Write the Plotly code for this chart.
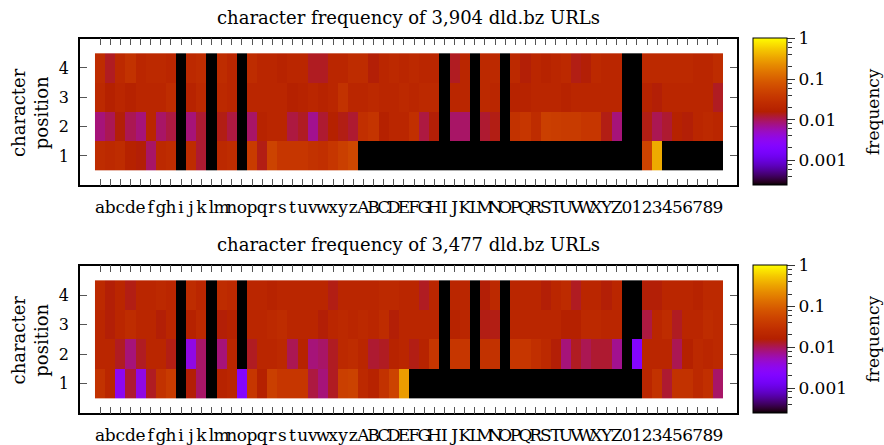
import numpy as np
import plotly.graph_objects as go

W, H = 884, 445

# ---------------- data ----------------
chars = list("abcdefghijklmnopqrstuvwxyzABCDEFGHIJKLMNOPQRSTUVWXYZ0123456789")
positions = [1, 2, 3, 4]
titles = ["character frequency of 3,904 dld.bz URLs",
          "character frequency of 3,477 dld.bz URLs"]

# chart 1: 3,904 URLs  (frequency per character, per position)
c1_pos1 = [0.025, 0.022, 0.025, 0.017, 0.015, 0.009, 0.022, 0.025, 0, 0.025, 0.012, 0, 0.022,
           0.025, 0, 0.04, 0.014, 0.05, 0.035, 0.035, 0.035, 0.03, 0.028, 0.035, 0.045, 0.055,
           0, 0, 0, 0, 0, 0, 0, 0, 0, 0, 0, 0, 0, 0, 0, 0, 0, 0, 0, 0, 0, 0, 0, 0, 0, 0,
           0, 0, 0.05, 0.35, 0, 0, 0, 0, 0, 0]
c1_pos2 = [0.008, 0.01, 0.015, 0.01, 0.008, 0.02, 0.009, 0.011, 0, 0.008, 0.012, 0, 0.014,
           0.011, 0, 0.009, 0.018, 0.02, 0.02, 0.011, 0.013, 0.007, 0.012, 0.016, 0.014, 0.012,
           0.028, 0.032, 0.016, 0.02, 0.02, 0.028, 0.011, 0.015, 0, 0.009, 0.009, 0, 0.012, 0.014,
           0, 0.03, 0.035, 0.025, 0.045, 0.042, 0.04, 0.04, 0.035, 0.035, 0.014, 0.008,
           0, 0, 0.014, 0.01, 0.012, 0.017, 0.015, 0.02, 0.022, 0.02]
c1_pos3 = [0.022, 0.016, 0.02, 0.017, 0.02, 0.02, 0.02, 0.025, 0, 0.018, 0.022, 0, 0.022,
           0.02, 0, 0.02, 0.02, 0.02, 0.02, 0.016, 0.018, 0.02, 0.018, 0.02, 0.03, 0.02,
           0.02, 0.022, 0.02, 0.02, 0.022, 0.02, 0.022, 0.022, 0, 0.02, 0.02, 0, 0.022, 0.02,
           0, 0.018, 0.018, 0.02, 0.02, 0.02, 0.018, 0.02, 0.02, 0.02, 0.02, 0.02,
           0, 0, 0.018, 0.015, 0.02, 0.02, 0.02, 0.02, 0.02, 0.013]
c1_pos4 = [0.025, 0.013, 0.022, 0.03, 0.02, 0.022, 0.022, 0.02, 0, 0.022, 0.025, 0, 0.025,
           0.02, 0, 0.025, 0.02, 0.02, 0.018, 0.02, 0.02, 0.013, 0.013, 0.02, 0.02, 0.025,
           0.025, 0.015, 0.02, 0.022, 0.02, 0.022, 0.02, 0.02, 0, 0.013, 0.02, 0, 0.022, 0.022,
           0, 0.022, 0.015, 0.02, 0.018, 0.02, 0.022, 0.014, 0.015, 0.022, 0.02, 0.02,
           0, 0, 0.022, 0.022, 0.022, 0.022, 0.022, 0.02, 0.02, 0.025]

# chart 2: 3,477 URLs
c2_pos1 = [0.03, 0.02, 0.003, 0.012, 0.0035, 0.013, 0.03, 0.04, 0, 0.015, 0.009, 0, 0.018,
           0.02, 0.0022, 0.035, 0.016, 0.045, 0.035, 0.035, 0.035, 0.011, 0.008, 0.013, 0.045, 0.048,
           0.022, 0.018, 0.03, 0.05, 0.28, 0, 0, 0, 0, 0, 0, 0, 0, 0, 0, 0, 0, 0, 0, 0, 0, 0,
           0, 0, 0, 0, 0, 0, 0.02, 0.03, 0.012, 0.03, 0.03, 0.022, 0.028, 0.009]
c2_pos2 = [0.02, 0.02, 0.013, 0.008, 0.013, 0.02, 0.02, 0.014, 0, 0.0035, 0.009, 0, 0.008,
           0.02, 0, 0.013, 0.02, 0.02, 0.022, 0.01, 0.018, 0.008, 0.009, 0.013, 0.022, 0.025,
           0.02, 0.012, 0.013, 0.018, 0.02, 0.014, 0.018, 0.035, 0, 0.035, 0.035, 0, 0.03, 0.03,
           0, 0.035, 0.035, 0.028, 0.022, 0.015, 0.008, 0.013, 0.01, 0.012, 0.012, 0.007,
           0, 0.0022, 0.02, 0.02, 0.02, 0.01, 0.016, 0.022, 0.02, 0.022]
c2_pos3 = [0.02, 0.015, 0.02, 0.025, 0.02, 0.02, 0.015, 0.02, 0, 0.017, 0.022, 0, 0.015,
           0.017, 0, 0.02, 0.02, 0.022, 0.025, 0.02, 0.02, 0.02, 0.015, 0.02, 0.022, 0.02,
           0.022, 0.02, 0.025, 0.015, 0.02, 0.02, 0.02, 0.02, 0, 0.018, 0.02, 0, 0.014, 0.014,
           0, 0.02, 0.02, 0.02, 0.02, 0.02, 0.016, 0.016, 0.022, 0.022, 0.02, 0.02,
           0, 0, 0.011, 0.02, 0.025, 0.013, 0.02, 0.02, 0.025, 0.022]
c2_pos4 = [0.022, 0.015, 0.02, 0.014, 0.02, 0.02, 0.022, 0.02, 0, 0.025, 0.02, 0, 0.025,
           0.022, 0, 0.02, 0.02, 0.018, 0.02, 0.02, 0.02, 0.02, 0.02, 0.014, 0.02, 0.02,
           0.02, 0.02, 0.022, 0.022, 0.02, 0.02, 0.013, 0.02, 0, 0.02, 0.02, 0, 0.015, 0.022,
           0, 0.02, 0.02, 0.02, 0.015, 0.02, 0.024, 0.013, 0.02, 0.02, 0.015, 0.02,
           0, 0, 0.015, 0.015, 0.02, 0.02, 0.02, 0.018, 0.022, 0.022]

cb_tick_vals = [1, 0.1, 0.01, 0.001]
cb_tick_text = ["1", "0.1", "0.01", "0.001"]
cb_minor_vals = [m * d for d in [0.1, 0.01, 0.001, 0.0001] for m in [2, 4, 6, 8]]

# ---------------- style ----------------
LOGMIN, LOGMAX = -3.62, 0.0
FONT = "DejaVu Serif"


def gp_color(t):
    # gnuplot default palette (rgbformulae 7,5,15)
    r = np.sqrt(t)
    g = t ** 3
    b = max(0.0, np.sin(2 * np.pi * t))
    return "rgb(%d,%d,%d)" % (round(255 * r), round(255 * g), round(255 * b))


colorscale = [[t, gp_color(t)] for t in np.linspace(0, 1, 61)]


def to_log(vals):
    return [np.log10(v) if v > 0 else LOGMIN for v in vals]


def px(x):
    return x / W


def py(y):
    return 1 - y / H


boxes = [(39, 187), (268, 417)]
X0, X1 = 80, 737

fig = go.Figure()
layout = dict(width=W, height=H, margin=dict(l=0, r=0, t=0, b=0),
              paper_bgcolor="white", plot_bgcolor="white",
              font=dict(family=FONT, color="black", size=16), showlegend=False)
annotations = []

charts = [[c1_pos1, c1_pos2, c1_pos3, c1_pos4], [c2_pos1, c2_pos2, c2_pos3, c2_pos4]]
for i, rows in enumerate(charts):
    n = i + 1
    xa = "x" if n == 1 else "x%d" % n
    ya = "y" if n == 1 else "y%d" % n
    ca = "coloraxis" if n == 1 else "coloraxis%d" % n
    top, bot = boxes[i]
    fig.add_trace(go.Heatmap(
        z=[to_log(r) for r in rows], x=list(range(len(chars))), y=positions,
        coloraxis=ca, xaxis=xa, yaxis=ya, hoverinfo="skip"))
    # dummy trace so the minor-tick axis of the colour box is drawn
    ymin_name = "y%d" % (n + 2)
    fig.add_trace(go.Scatter(x=[None], y=[None], xaxis=xa, yaxis=ymin_name,
                             mode="markers", hoverinfo="skip"))
    axis_common = dict(showgrid=False, zeroline=False, showline=True, linecolor="black",
                       linewidth=1.5, mirror="ticks", ticks="inside", ticklen=7,
                       tickwidth=1, tickcolor="#555")
    layout["xaxis" if n == 1 else "xaxis%d" % n] = dict(
        axis_common, domain=[px(X0), px(X1)], range=[-1.98, 62.88], anchor=ya,
        tickmode="array", tickvals=list(range(len(chars))), ticktext=chars,
        tickangle=0, tickfont=dict(family=FONT, size=17), ticklabelstandoff=6)
    layout["yaxis" if n == 1 else "yaxis%d" % n] = dict(
        axis_common, domain=[py(bot), py(top)], range=[0, 5], anchor=xa,
        tickmode="array", tickvals=positions, tickfont=dict(family=FONT, size=16),
        ticklabelstandoff=6)
    layout["yaxis%d" % (n + 2)] = dict(
        overlaying=ya, anchor="free", position=px(787), side="right",
        type="log", range=[LOGMIN, LOGMAX], tickmode="array", tickvals=cb_minor_vals,
        ticks="outside", ticklen=4, tickwidth=1, tickcolor="#333",
        showticklabels=False, showline=False, showgrid=False, zeroline=False)
    layout[ca] = dict(
        cmin=LOGMIN, cmax=LOGMAX, colorscale=colorscale,
        colorbar=dict(x=px(753), xanchor="left", xpad=0, ypad=0,
                      y=py((top + bot) / 2), yanchor="middle",
                      len=(bot - top) / H, lenmode="fraction",
                      thickness=34, thicknessmode="pixels",
                      outlinewidth=1, outlinecolor="black",
                      tickmode="array", tickvals=[np.log10(v) for v in cb_tick_vals],
                      ticktext=cb_tick_text, ticks="outside", ticklen=8,
                      tickwidth=1, tickcolor="#333",
                      tickfont=dict(family=FONT, size=17)))
    annotations.append(dict(text=titles[i], xref="paper", yref="paper",
                            x=px((X0 + X1) / 2), y=py(top - 21), xanchor="center",
                            yanchor="middle", showarrow=False,
                            font=dict(family=FONT, size=18)))
    annotations.append(dict(text="character<br>position", xref="paper", yref="paper",
                            x=px(30), y=py((top + bot) / 2), textangle=-90,
                            xanchor="center", yanchor="middle", showarrow=False,
                            font=dict(family=FONT, size=18)))
    annotations.append(dict(text="frequency", xref="paper", yref="paper",
                            x=px(873), y=py((top + bot) / 2), textangle=-90,
                            xanchor="center", yanchor="middle", showarrow=False,
                            font=dict(family=FONT, size=17)))

layout["annotations"] = annotations
fig.update_layout(**layout)
fig.write_html("out.html")
